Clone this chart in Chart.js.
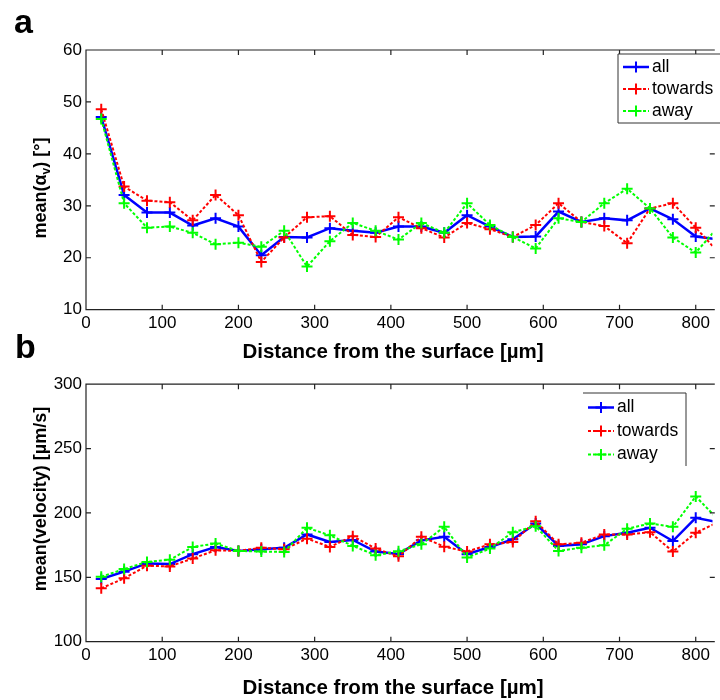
<!DOCTYPE html>
<html>
<head>
<meta charset="utf-8">
<script src="https://cdn.jsdelivr.net/npm/chart.js@4.4.1/dist/chart.umd.min.js"></script>
<style>
  body { margin: 0; background: #fff; }
  #wrap { position: relative; width: 720px; height: 700px; overflow: hidden; }
  canvas { position: absolute; left: 0; }
  #cA { top: 0; }
  #cB { top: 370px; }
  .tag { position: absolute; font: bold 34px "Liberation Sans", Arial, sans-serif; line-height: 34px; }
</style>
</head>
<body>
<div id="wrap">
  <canvas id="cA" width="720" height="370"></canvas>
  <canvas id="cB" width="720" height="330"></canvas>
  <div class="tag" style="left:14px; top:4px;">a</div>
  <div class="tag" style="left:15px; top:329px;">b</div>
</div>
<script>
// distance from the surface [um]
var distance = [20, 50, 80, 110, 140, 170, 200, 230, 260, 290, 320, 350, 380, 410,
                440, 470, 500, 530, 560, 590, 620, 650, 680, 710, 740, 770, 800, 830];

// panel a: mean(alpha_v) [deg]
var angleAll     = [47.1, 32.1, 28.7, 28.7, 26.2, 27.6, 26.0, 20.5, 24.0, 23.9, 25.7, 25.2, 24.8, 26.0,
                    26.0, 24.8, 28.2, 26.0, 24.0, 24.1, 28.9, 26.9, 27.6, 27.2, 29.5, 27.4, 24.1, 23.5];
var angleTowards = [48.6, 33.7, 31.0, 30.7, 27.2, 32.1, 28.2, 19.2, 23.9, 27.8, 28.0, 24.4, 24.0, 27.8,
                    25.7, 23.9, 26.7, 25.5, 24.0, 26.3, 30.5, 26.9, 26.1, 22.8, 29.5, 30.5, 25.8, 21.0];
var angleAway    = [46.7, 30.5, 25.8, 26.0, 24.8, 22.6, 22.9, 22.1, 25.2, 18.3, 23.2, 26.7, 25.2, 23.5,
                    26.7, 24.8, 30.5, 26.3, 24.0, 21.8, 27.6, 26.9, 30.5, 33.3, 29.5, 23.9, 21.0, 26.0];

// panel b: mean(velocity) [um/s]
var speedAll     = [148.7, 154.4, 160.8, 160.3, 168.0, 173.6, 170.5, 171.8, 173.0, 183.3, 177.4, 179.0, 170.0, 168.2,
                    178.7, 181.5, 168.0, 173.6, 179.5, 191.8, 174.4, 175.6, 182.0, 184.6, 188.5, 178.2, 196.2, 192.7];
var speedTowards = [141.5, 149.2, 159.0, 158.5, 164.6, 171.0, 170.5, 173.0, 171.8, 180.0, 173.6, 182.0, 172.3, 166.3,
                    181.5, 173.8, 170.0, 175.6, 177.4, 193.5, 175.6, 176.9, 183.3, 183.3, 185.1, 170.0, 184.6, 193.0];
var speedAway    = [150.5, 156.4, 162.0, 163.6, 173.6, 176.2, 170.5, 170.0, 169.7, 188.5, 182.6, 174.4, 167.2, 170.2,
                    175.6, 189.2, 165.4, 172.3, 185.1, 189.7, 170.5, 173.0, 174.9, 187.7, 191.8, 189.2, 212.8, 194.5];

var seriesNames = ['all', 'towards', 'away'];
var seriesColors = ['#0000ff', '#ff0000', '#00ff00'];

var tickFont = { family: '"Liberation Sans", Arial, sans-serif', size: 17 };

function makeSets(lists) {
    return lists.map(function (vals, i) {
        return {
            label: seriesNames[i],
            data: distance.map(function (d, k) { return { x: d, y: vals[k] }; }),
            borderColor: seriesColors[i],
            backgroundColor: seriesColors[i],
            borderWidth: i == 0 ? 2.5 : 2,
            borderDash: i == 0 ? [] : [3, 2],
            pointStyle: 'cross',
            pointRadius: 5.5,
            pointBorderWidth: 2,
            tension: 0,
            order: 2 - i
        };
    });
}

// frame with inward ticks, titles and a matlab-like legend
var framePlugin = {
    id: 'frame',
    afterDraw: function (chart, args, opts) {
        var ctx = chart.ctx, a = chart.chartArea;
        var x = chart.scales.x, y = chart.scales.y;
        var right = x.getPixelForValue(825);
        ctx.save();
        ctx.strokeStyle = '#222';
        ctx.lineWidth = 1.2;
        ctx.beginPath();
        ctx.moveTo(right, a.top); ctx.lineTo(a.left, a.top);
        ctx.lineTo(a.left, a.bottom); ctx.lineTo(right, a.bottom);
        x.ticks.forEach(function (t) {
            var px = x.getPixelForValue(t.value);
            ctx.moveTo(px, a.bottom); ctx.lineTo(px, a.bottom - 5);
            ctx.moveTo(px, a.top); ctx.lineTo(px, a.top + 5);
        });
        y.ticks.forEach(function (t) {
            var py = y.getPixelForValue(t.value);
            ctx.moveTo(a.left, py); ctx.lineTo(a.left + 5, py);
            ctx.moveTo(right, py); ctx.lineTo(right - 5, py);
        });
        ctx.stroke();

        // axis titles
        ctx.fillStyle = '#000';
        ctx.textBaseline = 'middle';
        ctx.textAlign = 'center';
        ctx.font = 'bold 20.5px "Liberation Sans", Arial, sans-serif';
        ctx.fillText(opts.xTitle, opts.xTitleAt[0], opts.xTitleAt[1]);

        var big = 'bold 18px "Liberation Sans", Arial, sans-serif';
        var small = 'bold 12px "Liberation Sans", Arial, sans-serif';
        var w = 0;
        opts.yTitle.forEach(function (p) { ctx.font = p.sub ? small : big; w += ctx.measureText(p.t).width; });
        ctx.translate(opts.yTitleAt[0], opts.yTitleAt[1]);
        ctx.rotate(-Math.PI / 2);
        ctx.textAlign = 'left';
        var cx = -w / 2;
        opts.yTitle.forEach(function (p) {
            ctx.font = p.sub ? small : big;
            ctx.fillText(p.t, cx, p.sub ? 6 : 0);
            cx += ctx.measureText(p.t).width;
        });
        ctx.setTransform(1, 0, 0, 1, 0, 0);

        // legend
        var lg = opts.legend;
        ctx.fillStyle = '#fff';
        ctx.fillRect(lg.box[0], lg.box[1], lg.box[2] - lg.box[0], lg.box[3] - lg.box[1]);
        ctx.strokeStyle = '#333';
        ctx.lineWidth = 1;
        ctx.beginPath();
        if (lg.sides.indexOf('top') >= 0) { ctx.moveTo(lg.box[0], lg.box[1]); ctx.lineTo(lg.box[2], lg.box[1]); }
        if (lg.sides.indexOf('bottom') >= 0) { ctx.moveTo(lg.box[0], lg.box[3]); ctx.lineTo(lg.box[2], lg.box[3]); }
        if (lg.sides.indexOf('left') >= 0) { ctx.moveTo(lg.box[0], lg.box[1]); ctx.lineTo(lg.box[0], lg.box[3]); }
        if (lg.sides.indexOf('right') >= 0) { ctx.moveTo(lg.box[2], lg.box[1]); ctx.lineTo(lg.box[2], lg.box[3]); }
        ctx.stroke();
        chart.data.datasets.forEach(function (ds, i) {
            var ry = lg.rowY + i * lg.rowGap;
            var mx = (lg.lineX[0] + lg.lineX[1]) / 2;
            ctx.strokeStyle = ds.borderColor;
            ctx.lineWidth = ds.borderWidth;
            ctx.setLineDash(ds.borderDash);
            ctx.beginPath(); ctx.moveTo(lg.lineX[0], ry); ctx.lineTo(lg.lineX[1], ry); ctx.stroke();
            ctx.setLineDash([]);
            ctx.lineWidth = 2;
            ctx.beginPath();
            ctx.moveTo(mx - 5.5, ry); ctx.lineTo(mx + 5.5, ry);
            ctx.moveTo(mx, ry - 5.5); ctx.lineTo(mx, ry + 5.5);
            ctx.stroke();
            ctx.fillStyle = '#000';
            ctx.font = '17.5px "Liberation Sans", Arial, sans-serif';
            ctx.textAlign = 'left';
            ctx.textBaseline = 'middle';
            ctx.fillText(ds.label, lg.textX, ry);
        });
        ctx.restore();
    }
};

function makeChart(id, lists, yMin, yMax, yStep, top, xHeight, frameOpts) {
    return new Chart(document.getElementById(id), {
        type: 'line',
        data: { datasets: makeSets(lists) },
        options: {
            responsive: false,
            animation: false,
            layout: { padding: { top: top, left: 0, right: 0, bottom: 0 } },
            plugins: { legend: { display: false }, tooltip: { enabled: false }, frame: frameOpts },
            scales: {
                x: {
                    type: 'linear', min: 0, max: 822,
                    grid: { display: false, drawTicks: false },
                    border: { display: false },
                    ticks: { stepSize: 100, includeBounds: false, font: tickFont, color: '#000', padding: 3, maxRotation: 0 },
                    afterFit: function (s) { s.height = xHeight; }
                },
                y: {
                    min: yMin, max: yMax,
                    grid: { display: false, drawTicks: false },
                    border: { display: false },
                    ticks: { stepSize: yStep, font: tickFont, color: '#000', padding: 4 },
                    afterFit: function (s) { s.width = 86; }
                }
            }
        },
        plugins: [framePlugin]
    });
}

makeChart('cA', [angleAll, angleTowards, angleAway], 10, 60, 10, 50, 60.3, {
    xTitle: 'Distance from the surface [µm]', xTitleAt: [393, 352],
    yTitle: [{ t: 'mean(α' }, { t: 'v', sub: true }, { t: ') [°]' }], yTitleAt: [41, 188],
    legend: { box: [618, 54, 740, 123], sides: ['top', 'left', 'bottom'],
              lineX: [623, 649], textX: 652, rowY: 67, rowGap: 22 }
});

makeChart('cB', [speedAll, speedTowards, speedAway], 100, 300, 50, 10, 58.3, {
    xTitle: 'Distance from the surface [µm]', xTitleAt: [393, 318],
    yTitle: [{ t: 'mean(velocity) [µm/s]' }], yTitleAt: [41, 129],
    legend: { box: [583, 23, 686, 96], sides: ['top', 'right'],
              lineX: [588, 614], textX: 617, rowY: 37.5, rowGap: 23.5 }
});
</script>
</body>
</html>
